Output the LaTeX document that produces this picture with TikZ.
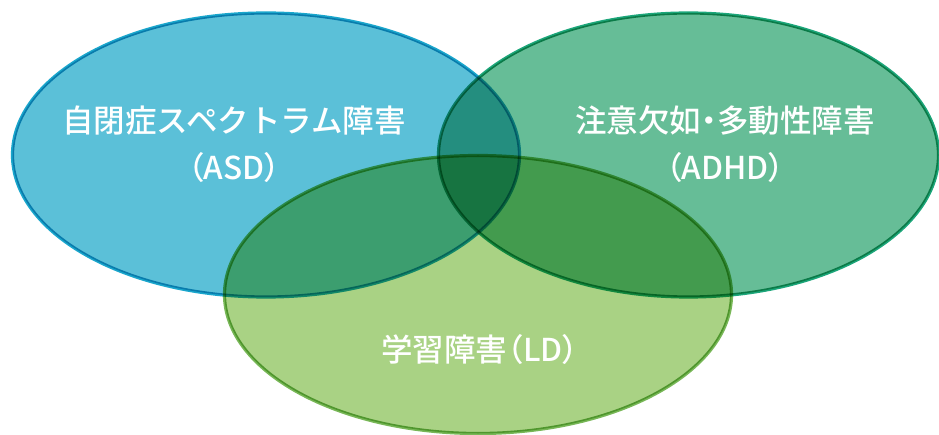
\documentclass[tikz,border=0pt]{standalone}
\usepackage{fontspec}
\newfontfamily\jp{Noto Sans CJK JP Medium}
\newfontfamily\jpp{Noto Sans CJK JP Medium}[RawFeature=+palt]
\newcommand{\lp}{{\jpp （}}
\newcommand{\rp}{{\jpp ）}}
\newcommand{\nakaguro}{{\jpp ・}}
\definecolor{asdfill}{HTML}{5BC0D8}
\definecolor{asdline}{HTML}{1AA6CC}
\definecolor{adhdfill}{HTML}{66BD97}
\definecolor{adhdline}{HTML}{1CA67A}
\definecolor{ldfill}{HTML}{A9D284}
\definecolor{ldline}{HTML}{78B757}
\tikzset{
  setshape/.style={blend mode=multiply, line width=3.2pt},
  label/.style={text=white, font=\jp\fontsize{31.5}{47}\selectfont, align=center, inner sep=0pt}
}
\begin{document}
\begin{tikzpicture}[x=1pt,y=-1pt]
\useasboundingbox (0,0) rectangle (939,435);
\fill[white] (0,0) rectangle (939,435);
\path[setshape, fill=asdfill, draw=asdline] (266,155) ellipse [x radius=253.5, y radius=142];
\path[setshape, fill=adhdfill, draw=adhdline] (688.5,155) ellipse [x radius=250, y radius=142];
\path[setshape, fill=ldfill, draw=ldline] (478,294.5) ellipse [x radius=253.5, y radius=139];
\node[label] (asd) at (234,144) {自閉症スペクトラム障害\\\lp ASD\rp};
\node[label] (adhd) at (725,144) {注意欠如\nakaguro 多動性障害\\\lp ADHD\rp};
\node[label] (ld) at (480,350) {学習障害\lp LD\rp};
\end{tikzpicture}
\end{document}
